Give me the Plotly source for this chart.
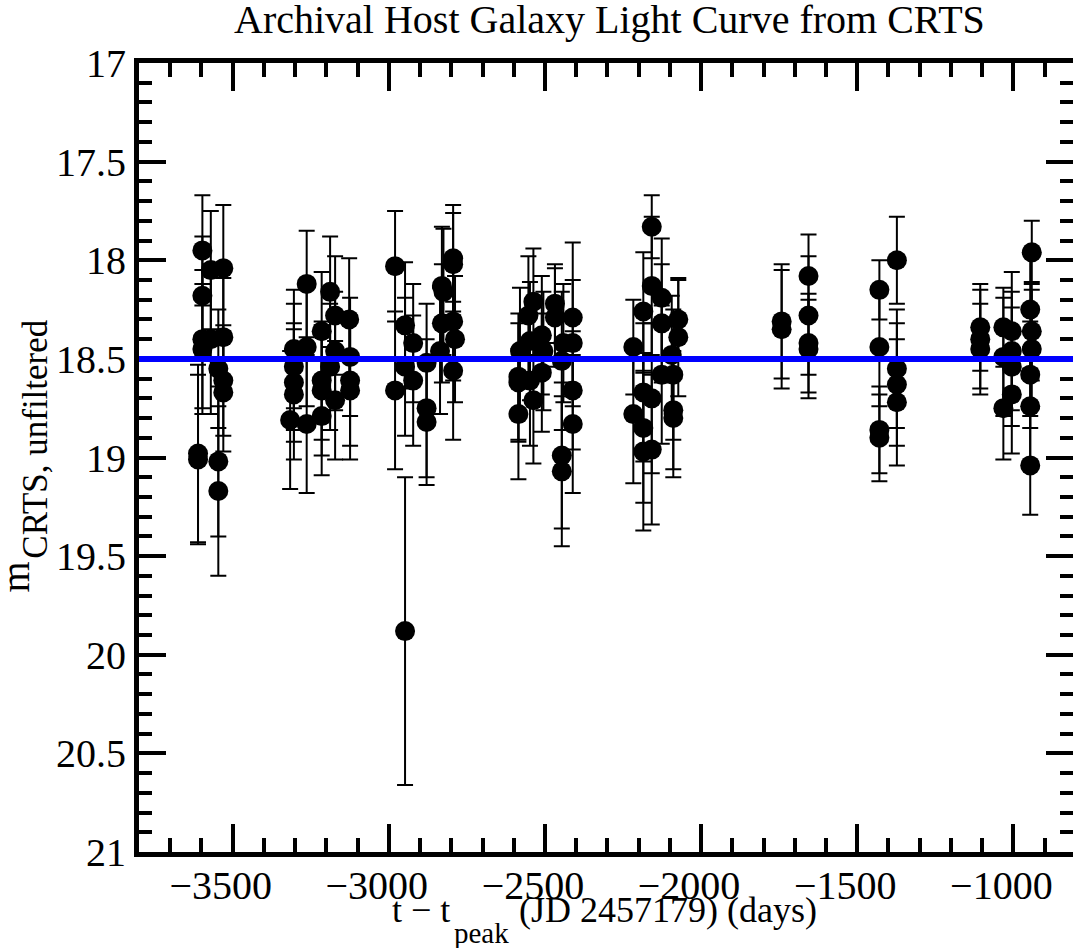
import plotly.graph_objects as go

# ---- data ----
t_days = [
    # cluster ~ -3600
    -3597, -3597, -3597, -3597, -3611, -3611, -3570, -3570, -3530, -3530,
    -3546, -3530, -3530, -3546, -3546,
    # cluster ~ -3250
    -3304, -3263, -3188, -3172, -3215, -3127, -3124, -3304, -3304, -3304,
    -3316, -3263, -3215, -3215, -3215, -3188, -3172, -3124, -3124, -3263, -3172,
    # cluster ~ -2900
    -2980, -2980, -2948, -2948, -2948, -2922, -2922, -2879, -2879, -2879,
    -2830, -2825, -2830, -2836, -2794, -2794, -2794, -2788, -2794,
    # cluster ~ -2500
    -2537, -2553, -2468, -2468, -2411, -2510, -2548, -2580, -2441, -2411,
    -2505, -2446, -2585, -2585, -2510, -2548, -2537, -2585, -2411, -2411,
    -2446, -2446,
    # cluster ~ -2150
    -2158, -2158, -2126, -2185, -2126, -2073, -2073, -2217, -2094, -2126,
    -2089, -2185, -2158, -2217, -2185, -2089, -2089, -2185, -2158,
    # cluster ~ -1700
    -1742, -1742, -1656, -1656, -1656, -1656,
    # cluster ~ -1400
    -1429, -1429, -1429, -1429, -1373, -1373, -1373, -1373,
    # cluster ~ -1000
    -1106, -1106, -1106, -1032, -1032, -1032, -1005, -1005, -1005, -1005,
    -946, -941, -941, -941, -946, -946, -946,
]

mag = [
    17.95, 18.18, 18.40, 18.45, 18.98, 19.01, 18.05, 18.40, 18.04, 18.39,
    18.55, 18.61, 18.67, 19.02, 19.17,
    18.45, 18.12, 18.16, 18.28, 18.36, 18.30, 18.49, 18.54, 18.62, 18.68,
    18.81, 18.83, 18.61, 18.66, 18.79, 18.54, 18.71, 18.61, 18.66, 18.44, 18.46,
    18.03, 18.66, 18.33, 18.54, 19.88, 18.42, 18.61, 18.52, 18.75, 18.82,
    18.13, 18.16, 18.32, 18.46, 17.99, 18.02, 18.31, 18.40, 18.56,
    18.21, 18.28, 18.22, 18.29, 18.29, 18.38, 18.41, 18.46, 18.42, 18.42,
    18.46, 18.51, 18.59, 18.62, 18.57, 18.61, 18.71, 18.78, 18.66, 18.83,
    18.99, 19.07,
    17.83, 18.13, 18.19, 18.26, 18.32, 18.30, 18.39, 18.44, 18.48, 18.58,
    18.58, 18.67, 18.70, 18.78, 18.85, 18.76, 18.80, 18.97, 18.96,
    18.31, 18.35, 18.08, 18.28, 18.42, 18.45,
    18.15, 18.44, 18.86, 18.90, 18.00, 18.55, 18.63, 18.72,
    18.34, 18.40, 18.45, 18.34, 18.49, 18.75, 18.36, 18.46, 18.54, 18.68,
    18.25, 17.96, 18.36, 18.45, 18.58, 18.74, 19.04,
]

mag_err = [
    0.28, 0.30, 0.35, 0.33, 0.45, 0.43, 0.30, 0.38, 0.32, 0.30,
    0.30, 0.28, 0.30, 0.38, 0.43,
    0.30, 0.27, 0.28, 0.30, 0.30, 0.31, 0.30, 0.32, 0.30, 0.33,
    0.35, 0.35, 0.30, 0.33, 0.30, 0.32, 0.30, 0.33, 0.35, 0.30, 0.30,
    0.28, 0.40, 0.32, 0.35, 0.78, 0.30, 0.33, 0.30, 0.35, 0.32,
    0.30, 0.32, 0.30, 0.32, 0.27, 0.26, 0.30, 0.32, 0.35,
    0.27, 0.30, 0.20, 0.25, 0.38, 0.30, 0.30, 0.32, 0.30, 0.32,
    0.30, 0.35, 0.32, 0.30, 0.30, 0.33, 0.32, 0.33, 0.30, 0.35,
    0.37, 0.38,
    0.16, 0.35, 0.30, 0.30, 0.30, 0.20, 0.30, 0.24, 0.30, 0.35,
    0.33, 0.35, 0.38, 0.35, 0.38, 0.30, 0.30, 0.40, 0.38,
    0.29, 0.30, 0.21, 0.30, 0.25, 0.25,
    0.15, 0.30, 0.22, 0.22, 0.22, 0.30, 0.31, 0.32,
    0.22, 0.25, 0.23, 0.20, 0.30, 0.26, 0.30, 0.30, 0.30, 0.30,
    0.30, 0.16, 0.25, 0.30, 0.27, 0.30, 0.25,
]

mean_mag = 18.5

x_range = [-3800, -809]
y_range = [21, 17]
x_tick0, x_dtick, x_minor = -3500, 500, 100
y_tick0, y_dtick, y_minor = 17, 0.5, 0.1

title_text = "Archival Host Galaxy Light Curve from CRTS"
x_title_main = "t \u2212 t"
x_title_sub = "peak"
x_title_rest = "(JD 2457179) (days)"
y_title_main = "m"
y_title_sub = "CRTS, unfiltered"

FONT = "Liberation Serif, Times New Roman, serif"
L, T, W, H = 139, 63, 1073, 948
B = 852  # bottom of plot area in px

fig = go.Figure()
fig.add_trace(go.Scatter(
    x=t_days, y=mag, mode="markers",
    marker=dict(size=20, color="black", line=dict(width=0)),
    error_y=dict(type="data", array=mag_err, visible=True,
                 color="black", thickness=2, width=8),
    hoverinfo="x+y",
))
# invisible helper trace so that the right-hand tick axis is drawn
fig.add_trace(go.Scatter(
    x=t_days[:1], y=mag[:1], yaxis="y2", mode="markers",
    marker=dict(size=1, opacity=0), hoverinfo="skip", showlegend=False,
))

# mean level line (drawn above the points)
fig.add_shape(type="line", xref="paper", x0=0, x1=1, yref="y",
              y0=mean_mag, y1=mean_mag, layer="above",
              line=dict(color="#0000ff", width=6))

fig.update_layout(
    width=W, height=H,
    margin=dict(l=L, r=0, t=T, b=H - B, autoexpand=False),
    plot_bgcolor="white", paper_bgcolor="white",
    showlegend=False,
    font=dict(family=FONT, color="black", size=40),
)

tick_common = dict(tickcolor="black", tickwidth=4, showgrid=False, zeroline=False)

fig.update_layout(
    xaxis=dict(
        range=x_range, tickmode="linear", tick0=x_tick0, dtick=x_dtick,
        ticks="inside", ticklen=28,
        showline=True, linewidth=5, linecolor="black", mirror="ticks",
        tickfont=dict(family=FONT, size=40, color="black"),
        ticklabelshift=-12, ticklabelstandoff=-6,
        minor=dict(dtick=x_minor, tick0=x_tick0, ticks="inside", ticklen=14,
                   tickwidth=4, tickcolor="black", showgrid=False),
        **tick_common,
    ),
    yaxis=dict(
        range=y_range, tickmode="linear", tick0=y_tick0, dtick=y_dtick,
        ticks="inside", ticklen=27,
        showline=True, linewidth=5, linecolor="black", mirror=False,
        tickfont=dict(family=FONT, size=40, color="black"),
        minor=dict(dtick=y_minor, tick0=y_tick0, ticks="inside", ticklen=13,
                   tickwidth=4, tickcolor="black", showgrid=False),
        **tick_common,
    ),
    yaxis2=dict(
        range=y_range, overlaying="y", side="right",
        tickmode="linear", tick0=y_tick0, dtick=y_dtick,
        ticks="inside", ticklen=27, showticklabels=False, showline=False,
        minor=dict(dtick=y_minor, tick0=y_tick0, ticks="inside", ticklen=13,
                   tickwidth=4, tickcolor="black", showgrid=False),
        **tick_common,
    ),
)

def px_ann(text, cx, cy, size, xanchor="center", angle=0):
    """place an annotation by pixel position of its anchor (cx) and vertical centre (cy)"""
    fig.add_annotation(
        text=text, xref="paper", yref="paper", x=0, y=0,
        xshift=cx - L, yshift=B - cy, xanchor=xanchor, yanchor="middle",
        textangle=angle, showarrow=False,
        font=dict(family=FONT, size=size, color="black"),
    )

# title (baseline ~33 px)
px_ann(title_text, 609, 33 - 0.3375 * 40, 40)
# x-axis title pieces
px_ann(x_title_main, 452, 922 - 0.3375 * 36, 36, xanchor="right")
px_ann(x_title_sub, 452, 943 - 0.3375 * 29, 29, xanchor="left")
px_ann(x_title_rest, 517, 922 - 0.3375 * 36, 36, xanchor="left")
# y-axis title pieces (rotated)
fig.add_annotation(text=y_title_main, xref="paper", yref="paper", x=0, y=0,
                   xshift=28 - 0.3375 * 40 - L, yshift=B - 577,
                   xanchor="center", yanchor="middle", textangle=-90,
                   showarrow=False, font=dict(family=FONT, size=40, color="black"))
fig.add_annotation(text=y_title_sub, xref="paper", yref="paper", x=0, y=0,
                   xshift=47 - 0.3375 * 35 - L, yshift=B - 439.5,
                   xanchor="center", yanchor="middle", textangle=-90,
                   showarrow=False, font=dict(family=FONT, size=35, color="black"))

fig.write_html(
    "out.html",
    config={"displayModeBar": False},
    post_script="document.body.style.margin='0px';document.body.style.overflow='hidden';",
)
